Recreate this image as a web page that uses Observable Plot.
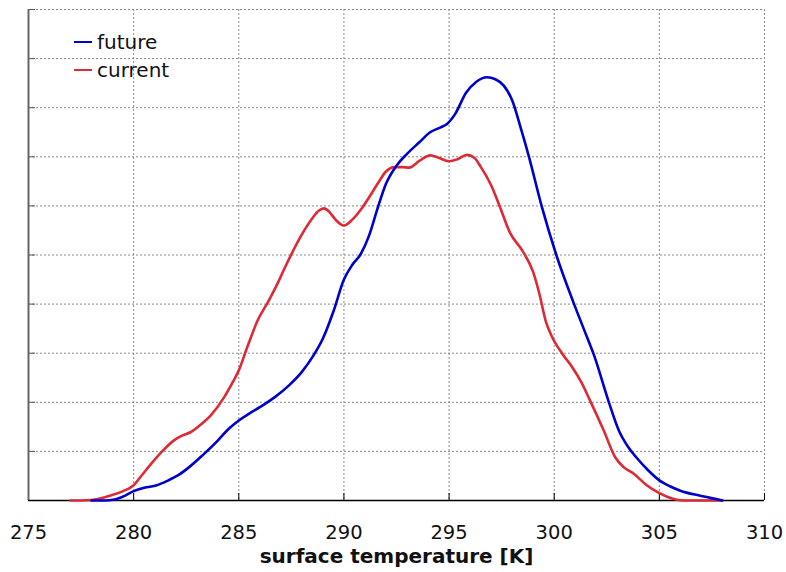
<!DOCTYPE html>
<html><head><meta charset="utf-8">
<script src="https://cdn.jsdelivr.net/npm/d3@7"></script>
<script src="https://cdn.jsdelivr.net/npm/@observablehq/plot@0.6"></script>
<style>
body{margin:0;background:#fff;}
#wrap{position:relative;width:786px;height:572px;font-family:"DejaVu Sans",Verdana,sans-serif;}
#legend{position:absolute;left:74px;top:28px;font-size:20px;line-height:28px;color:#111;}
.item{display:flex;align-items:center;height:28px;}
.sw{width:18px;height:0;border-top:2.5px solid;margin-right:5px;}
</style></head><body><div id="wrap"><div id="legend"></div></div>
<script>
const seriesNames = ["future", "current"];
const seriesColors = ["#0000cc", "#dd2a35"];
const xTicks = [275, 280, 285, 290, 295, 300, 305, 310];
const yTicks = [0, 1, 2, 3, 4, 5, 6, 7, 8, 9, 10];
const xLabel = "surface temperature [K]";

const futureX = [278.0, 278.6, 279.1, 279.6, 280.0, 280.5, 281.1, 281.6, 282.1, 282.7, 283.3, 284.0, 284.5, 285.0, 285.5, 286.0, 286.7, 287.4, 288.0, 288.5, 289.0, 289.5, 290.0, 290.4, 290.8, 291.2, 291.6, 292.0, 292.5, 293.0, 293.6, 294.1, 294.6, 294.9, 295.3, 295.8, 296.3, 296.8, 297.2, 297.6, 298.0, 298.4, 298.8, 299.4, 300.1, 300.9, 301.4, 301.9, 302.6, 303.1, 303.5, 303.9, 304.5, 305.0, 305.5, 306.0, 306.9, 307.9, 308.0];
const futureY = [0, 0.0, 0.02, 0.1, 0.19, 0.26, 0.31, 0.4, 0.51, 0.7, 0.93, 1.22, 1.45, 1.63, 1.77, 1.9, 2.1, 2.35, 2.62, 2.92, 3.3, 3.85, 4.5, 4.8, 5.02, 5.4, 5.95, 6.45, 6.82, 7.06, 7.3, 7.5, 7.6, 7.67, 7.88, 8.3, 8.53, 8.62, 8.58, 8.45, 8.15, 7.6, 7.0, 6.0, 5.0, 4.05, 3.5, 2.95, 2.0, 1.4, 1.1, 0.88, 0.6, 0.41, 0.29, 0.2, 0.1, 0.01, 0];

const currentX = [277.0, 277.5, 278.0, 278.5, 278.9, 279.5, 280.0, 280.4, 280.8, 281.4, 281.9, 282.3, 282.7, 283.2, 283.7, 284.3, 284.7, 285.0, 285.4, 285.9, 286.4, 286.8, 287.2, 287.6, 288.0, 288.5, 288.8, 289.05, 289.3, 289.6, 290.0, 290.4, 290.8, 291.1, 291.6, 292.0, 292.4, 292.8, 293.1, 293.6, 294.1, 294.5, 295.0, 295.4, 295.85, 296.2, 296.5, 297.0, 297.4, 297.9, 298.5, 299.0, 299.3, 299.6, 299.9, 300.4, 300.85, 301.3, 301.7, 302.35, 302.9, 303.3, 303.8, 304.4, 305.0, 305.6, 306.1, 307.0, 308.0];
const currentY = [0, 0.0, 0.01, 0.05, 0.1, 0.19, 0.31, 0.52, 0.73, 1.02, 1.22, 1.32, 1.39, 1.55, 1.75, 2.1, 2.4, 2.65, 3.12, 3.67, 4.05, 4.38, 4.75, 5.1, 5.42, 5.75, 5.9, 5.95, 5.88, 5.72, 5.6, 5.72, 5.92, 6.11, 6.45, 6.7, 6.79, 6.79, 6.78, 6.92, 7.03, 6.98, 6.91, 6.95, 7.04, 6.98, 6.8, 6.42, 6.0, 5.45, 5.08, 4.65, 4.2, 3.65, 3.33, 2.98, 2.72, 2.4, 2.04, 1.43, 0.88, 0.68, 0.54, 0.31, 0.15, 0.04, 0.0, 0, 0];

const future = futureX.map((x, i) => ({x, y: futureY[i], s: "future"}));
const current = currentX.map((x, i) => ({x, y: currentY[i], s: "current"}));

const grid = {stroke: "#8a8a8a", strokeOpacity: 1, strokeDasharray: "2,2", strokeWidth: 1};

const chart = Plot.plot({
  width: 786,
  height: 572,
  marginLeft: 28,
  marginRight: 22,
  marginTop: 9,
  marginBottom: 72,
  style: {fontFamily: "DejaVu Sans, Verdana, sans-serif", fontSize: "19.5px", color: "#111", background: "#fff"},
  x: {domain: [275, 310]},
  y: {domain: [0, 10]},
  marks: [
    Plot.gridX(xTicks, grid),
    Plot.gridY(yTicks, grid),
    Plot.axisY(yTicks, {tickSize: -7, tickFormat: () => "", stroke: "#555", label: null}),
    Plot.axisX(xTicks, {tickSize: -7, tickFormat: () => "", stroke: "#000", label: null}),
    Plot.axisX(xTicks, {tickSize: 0, tickPadding: 25, label: null}),
    Plot.ruleX([275], {stroke: "#666", strokeWidth: 2}),
    Plot.ruleY([0], {stroke: "#000", strokeWidth: 1.5}),
    Plot.line(current, {x: "x", y: "y", stroke: seriesColors[1], strokeWidth: 2.6, curve: "monotone-x"}),
    Plot.line(future, {x: "x", y: "y", stroke: seriesColors[0], strokeWidth: 2.6, curve: "monotone-x"}),
    Plot.text([xLabel], {frameAnchor: "bottom", dy: 62, fontWeight: "bold", fontSize: 20, fill: "#111"})
  ]
});
document.getElementById("wrap").prepend(chart);

const legend = document.getElementById("legend");
seriesNames.forEach((name, i) => {
  const item = document.createElement("div");
  item.className = "item";
  const sw = document.createElement("span");
  sw.className = "sw";
  sw.style.borderColor = seriesColors[i];
  item.appendChild(sw);
  item.appendChild(document.createTextNode(name));
  legend.appendChild(item);
});
</script>
</body></html>
